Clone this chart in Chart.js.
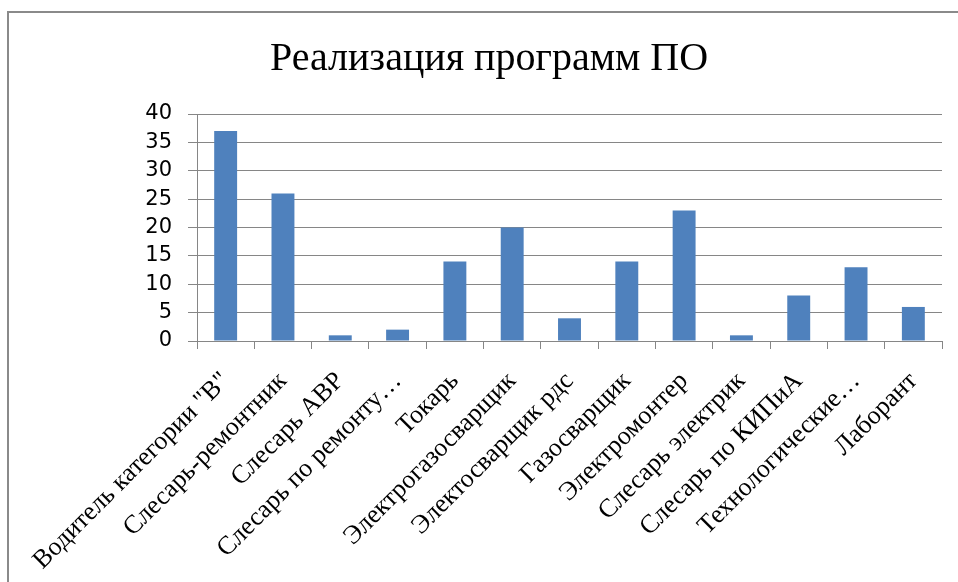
<!DOCTYPE html>
<html>
<head>
<meta charset="utf-8">
<script src="https://cdn.jsdelivr.net/npm/chart.js@4/dist/chart.umd.min.js"></script>
<style>
  html, body { margin: 0; padding: 0; background: #fff; }
  #wrap { width: 958px; height: 582px; }
</style>
</head>
<body>
<div id="wrap"><canvas id="c" width="958" height="582"></canvas></div>
<script>
const chartTitle = 'Реализация программ ПО';
const categories = [
  'Водитель категории "В"',
  'Слесарь-ремонтник',
  'Слесарь АВР',
  'Слесарь по ремонту…',
  'Токарь',
  'Электрогазосварщик',
  'Электосварщик рдс',
  'Газосварщик',
  'Электромонтер',
  'Слесарь электрик',
  'Слесарь по КИПиА',
  'Технологические…',
  'Лаборант'
];
const values = [37, 26, 1, 2, 14, 20, 4, 14, 23, 1, 8, 13, 6];
const yTicks = [0, 5, 10, 15, 20, 25, 30, 35, 40];

const outerBorder = {
  id: 'outerBorder',
  beforeDraw(chart) {
    const ctx = chart.ctx;
    ctx.save();
    ctx.fillStyle = '#ffffff';
    ctx.fillRect(0, 0, chart.width, chart.height);
    ctx.strokeStyle = '#8a8a8a';
    ctx.lineWidth = 2;
    ctx.strokeRect(8, 12, chart.width + 20, chart.height + 20);
    ctx.restore();
  }
};

new Chart(document.getElementById('c'), {
  type: 'bar',
  data: {
    labels: categories,
    datasets: [{
      data: values,
      backgroundColor: '#4F81BD',
      borderWidth: 0,
      categoryPercentage: 1.0,
      barPercentage: 0.4
    }]
  },
  options: {
    responsive: false,
    animation: false,
    devicePixelRatio: 1,
    layout: { padding: { left: 36, right: 16, top: 12, bottom: 0 } },
    plugins: {
      legend: { display: false },
      tooltip: { enabled: false },
      title: {
        display: true,
        text: chartTitle,
        color: '#000',
        font: { family: '"Liberation Serif", "Times New Roman", serif', size: 40, weight: 'normal', lineHeight: 1.2 },
        padding: { top: 23, bottom: 31 }
      }
    },
    scales: {
      x: {
        grid: { display: true, drawOnChartArea: false, drawTicks: true, tickLength: 8, color: '#868686', offset: true, lineWidth: 1 },
        border: { display: true, color: '#868686', width: 1 },
        ticks: {
          autoSkip: false,
          minRotation: 45,
          maxRotation: 45,
          padding: 17,
          color: '#000',
          font: { family: '"Liberation Serif", "Times New Roman", serif', size: 26 }
        },
        afterFit(scale) { scale.height = 241; }
      },
      y: {
        min: 0,
        max: 40,
        afterBuildTicks(scale) { scale.ticks = yTicks.map(v => ({ value: v })); },
        grid: { color: '#868686', lineWidth: 1, tickLength: 9, drawTicks: true },
        border: { display: true, color: '#868686', width: 1 },
        ticks: {
          autoSkip: false,
          padding: 16,
          color: '#000',
          font: { family: '"DejaVu Sans", sans-serif', size: 21 }
        },
        afterFit(scale) { scale.width = 161; }
      }
    }
  },
  plugins: [outerBorder]
});
</script>
</body>
</html>
